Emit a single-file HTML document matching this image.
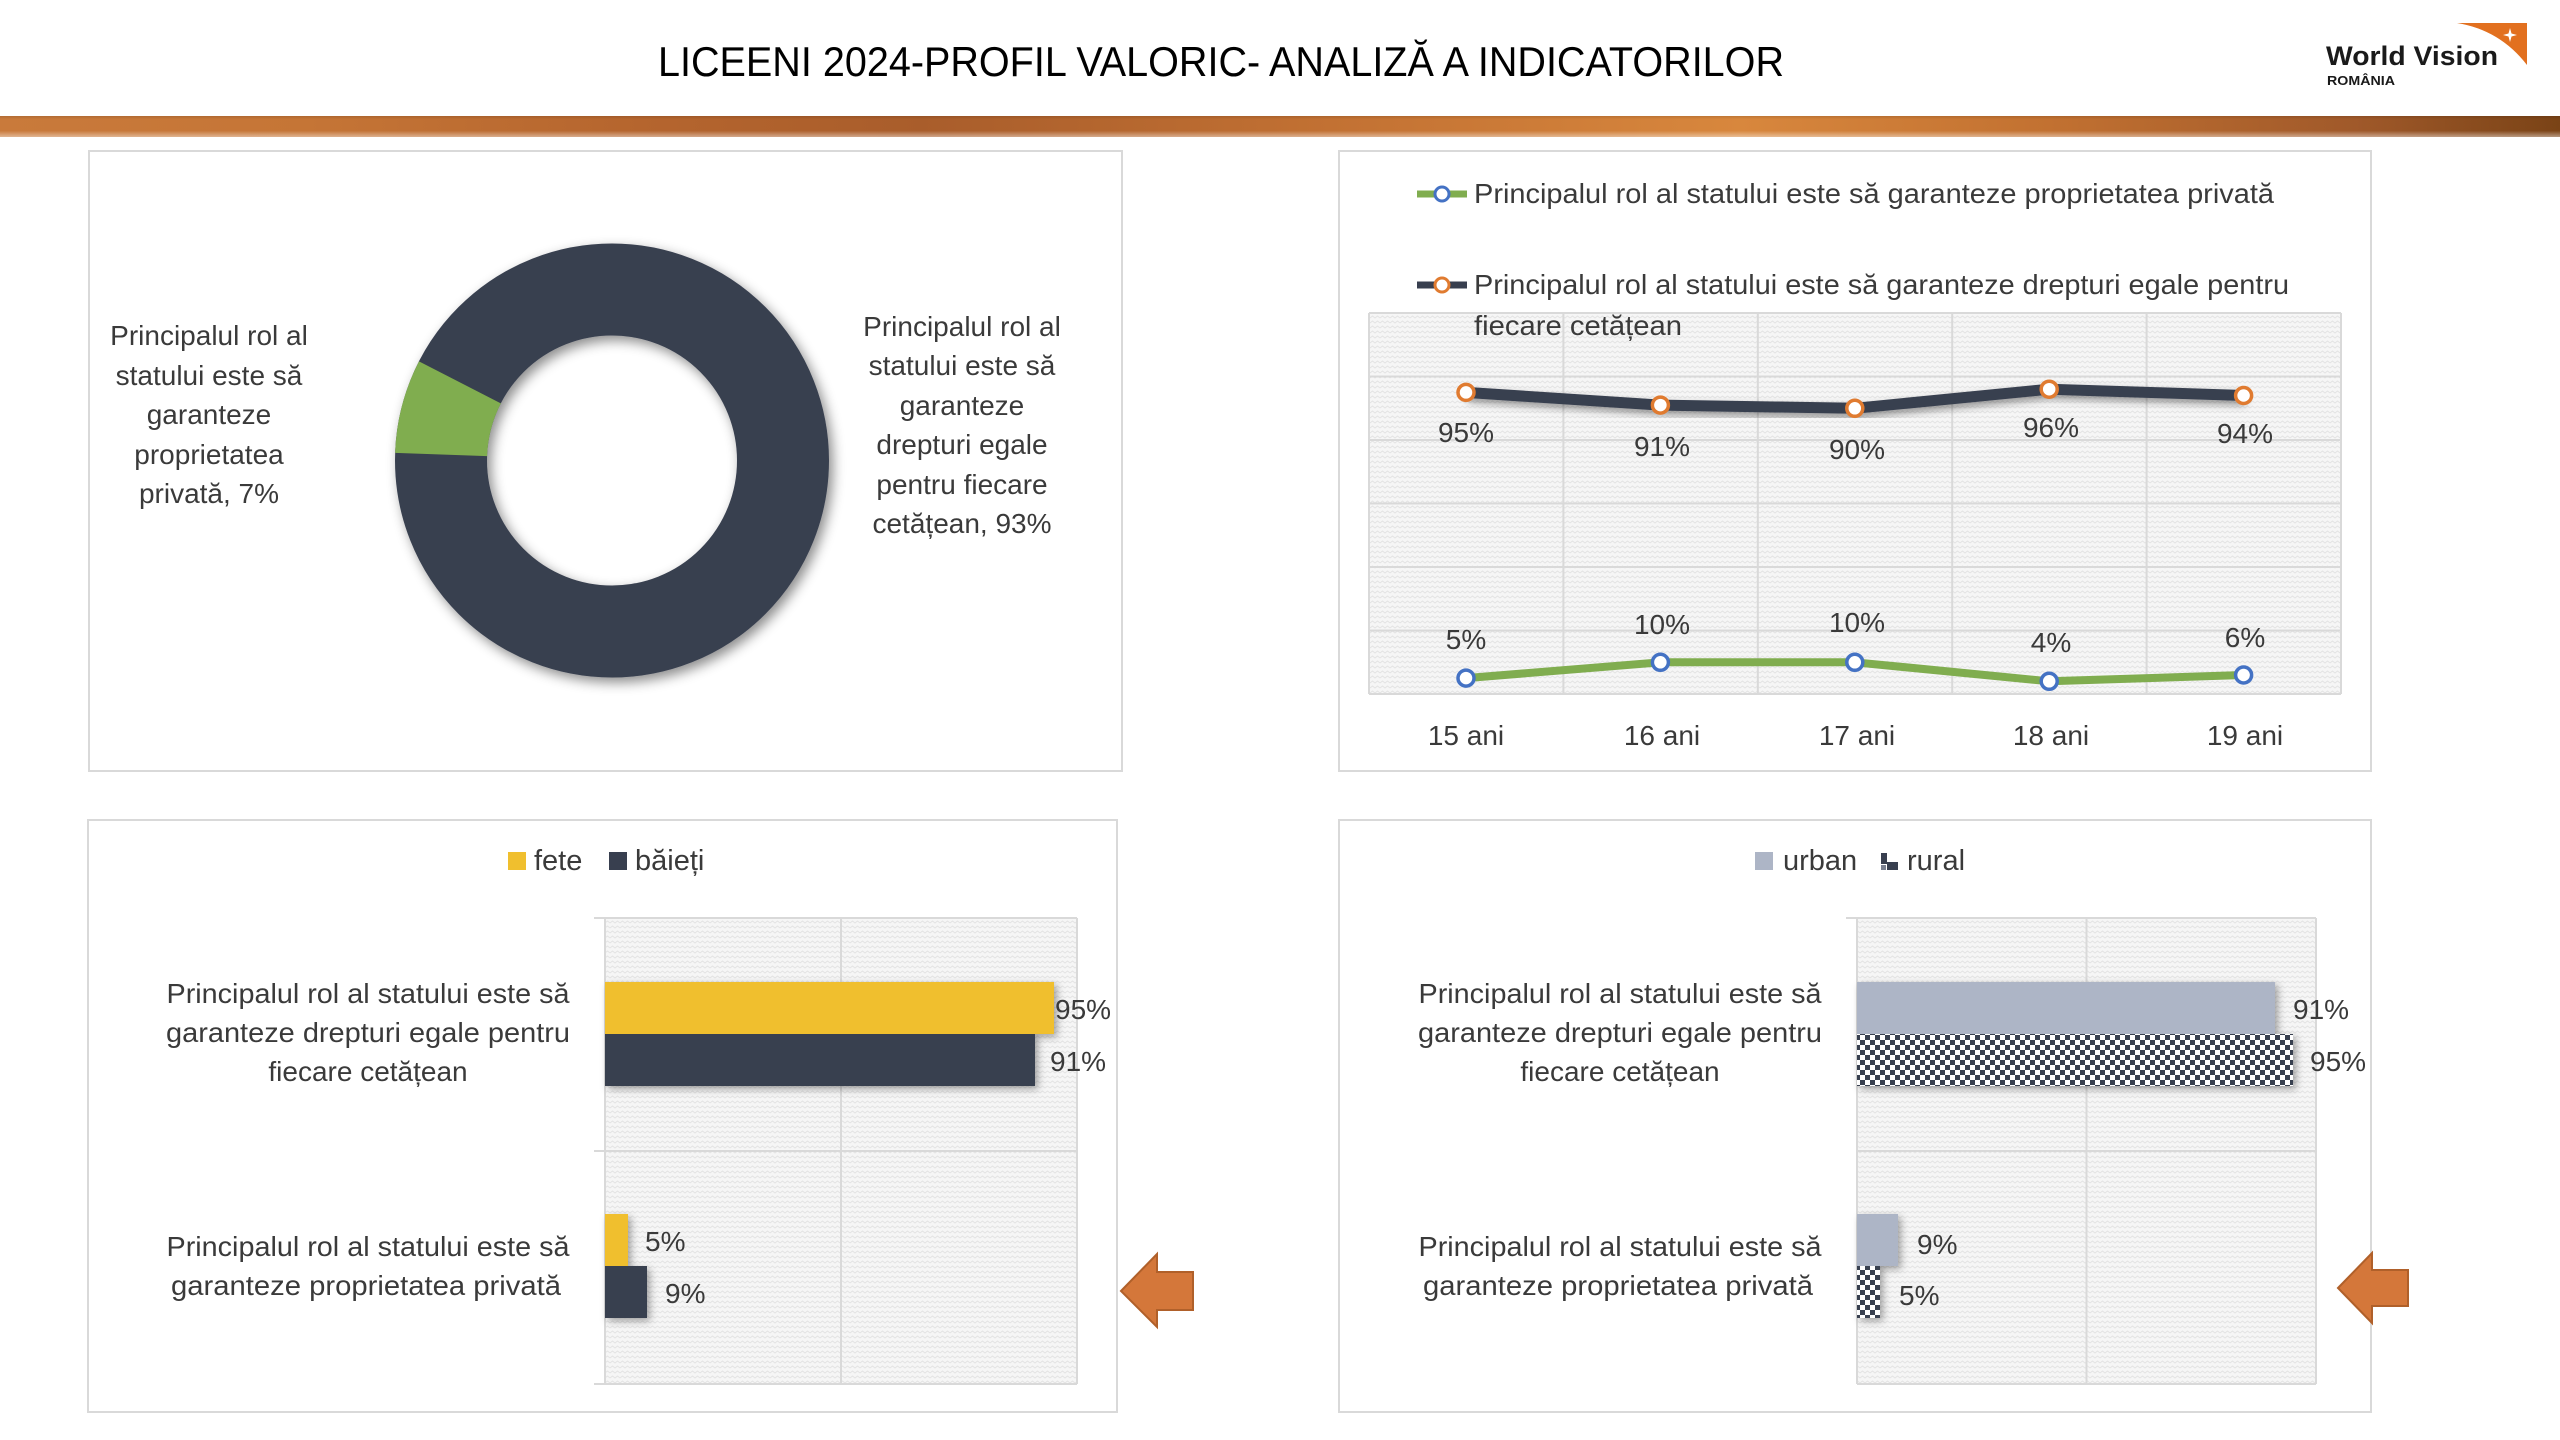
<!DOCTYPE html>
<html><head><meta charset="utf-8"><style>
html,body{margin:0;padding:0;background:#fff;}
svg{display:block;}
text{font-family:"Liberation Sans",sans-serif;}
</style></head><body>
<svg width="2560" height="1440" viewBox="0 0 2560 1440" xmlns="http://www.w3.org/2000/svg">
<defs>
<linearGradient id="band" x1="0" y1="0" x2="1" y2="0">
<stop offset="0" stop-color="#c97a3b"/>
<stop offset="0.12" stop-color="#c57536"/>
<stop offset="0.25" stop-color="#b5652e"/>
<stop offset="0.36" stop-color="#a95d2b"/>
<stop offset="0.52" stop-color="#c27133"/>
<stop offset="0.68" stop-color="#d8873d"/>
<stop offset="0.8" stop-color="#c27131"/>
<stop offset="0.92" stop-color="#a0592a"/>
<stop offset="1" stop-color="#7a4316"/>
</linearGradient>
<linearGradient id="bandv" x1="0" y1="0" x2="0" y2="1">
<stop offset="0" stop-color="#000" stop-opacity="0.12"/>
<stop offset="0.15" stop-color="#000" stop-opacity="0"/>
<stop offset="0.7" stop-color="#fff" stop-opacity="0"/>
<stop offset="1" stop-color="#fff" stop-opacity="0.45"/>
</linearGradient>
<pattern id="tex" width="10" height="10" patternUnits="userSpaceOnUse">
<rect width="10" height="10" fill="#f6f6f6"/>
<path d="M0,3 l2.5,-2 l2.5,2 l2.5,-2 l2.5,2 M0,8 l2.5,-2 l2.5,2 l2.5,-2 l2.5,2" stroke="#e3e3e3" stroke-width="1" fill="none"/>
</pattern>
<pattern id="chk" width="10" height="10" patternUnits="userSpaceOnUse">
<rect width="10" height="10" fill="#ffffff"/>
<rect x="0" y="0" width="5" height="5" fill="#383f4f"/>
<rect x="5" y="5" width="5" height="5" fill="#383f4f"/>
</pattern>
<filter id="sh" x="-20%" y="-20%" width="140%" height="140%">
<feDropShadow dx="4" dy="5" stdDeviation="6" flood-color="#000" flood-opacity="0.45"/>
</filter>
<filter id="shl" x="-10%" y="-50%" width="120%" height="200%">
<feDropShadow dx="2" dy="4" stdDeviation="4" flood-color="#000" flood-opacity="0.4"/>
</filter>
<filter id="shb" x="-10%" y="-30%" width="120%" height="160%">
<feDropShadow dx="3" dy="3" stdDeviation="4" flood-color="#000" flood-opacity="0.35"/>
</filter>
</defs>

<rect width="2560" height="1440" fill="#fff"/>

<!-- Header -->
<text x="1221" y="76" font-size="42" fill="#000" text-anchor="middle" textLength="1126" lengthAdjust="spacingAndGlyphs">LICEENI 2024-PROFIL VALORIC- ANALIZĂ A INDICATORILOR</text>
<path d="M2457,23 L2527,23 L2527,65 Q2500,30 2457,23 Z" fill="#e2701f"/>
<path d="M2510,28 L2511.5,33.5 L2517,35 L2511.5,36.5 L2510,42 L2508.5,36.5 L2503,35 L2508.5,33.5 Z" fill="#fff"/>
<text x="2326" y="65" font-size="27" font-weight="bold" fill="#1a1a1a" textLength="172" lengthAdjust="spacingAndGlyphs">World Vision</text>
<text x="2327" y="85" font-size="13" font-weight="bold" fill="#1a1a1a" textLength="68" lengthAdjust="spacingAndGlyphs">ROMÂNIA</text>
<rect x="0" y="116" width="2560" height="21" fill="url(#band)"/>
<rect x="0" y="116" width="2560" height="21" fill="url(#bandv)"/>

<!-- Panels -->
<rect x="89" y="151" width="1033" height="620" fill="#fff" stroke="#d9d9d9" stroke-width="2"/>
<rect x="1339" y="151" width="1032" height="620" fill="#fff" stroke="#d9d9d9" stroke-width="2"/>
<rect x="88" y="820" width="1029" height="592" fill="#fff" stroke="#d9d9d9" stroke-width="2"/>
<rect x="1339" y="820" width="1032" height="592" fill="#fff" stroke="#d9d9d9" stroke-width="2"/>

<!-- Donut -->
<g filter="url(#sh)">
<circle cx="612" cy="460.5" r="171" fill="none" stroke="#383f4f" stroke-width="92"/>
<path d="M395.13,452.93 A217,217 0 0 1 419.0,361.32 L500.82,403.37 A125,125 0 0 0 487.08,456.14 Z" fill="#80ad4f"/>
</g>
<g font-size="28" fill="#3a3a3a" text-anchor="middle">
<text x="209" y="345">Principalul rol al</text>
<text x="209" y="385">statului este să</text>
<text x="209" y="424">garanteze</text>
<text x="209" y="464">proprietatea</text>
<text x="209" y="503">privată, 7%</text>
<text x="962" y="336">Principalul rol al</text>
<text x="962" y="375">statului este să</text>
<text x="962" y="415">garanteze</text>
<text x="962" y="454">drepturi egale</text>
<text x="962" y="494">pentru fiecare</text>
<text x="962" y="533">cetățean, 93%</text>
</g>

<!-- Line chart -->
<rect x="1369" y="313" width="972" height="381" fill="url(#tex)"/>
<g stroke="#d9d9d9" stroke-width="2" fill="none">
<path d="M1369,313H2341M1369,376.5H2341M1369,440H2341M1369,503.5H2341M1369,567H2341M1369,630.5H2341M1369,694H2341"/>
<path d="M1369,313V694M1563.4,313V694M1757.8,313V694M1952.2,313V694M2146.6,313V694M2341,313V694"/>
</g>
<!-- legend -->
<line x1="1417" y1="194" x2="1467" y2="194" stroke="#80ad4f" stroke-width="7"/>
<circle cx="1442" cy="194" r="7" fill="#fff" stroke="#4472c4" stroke-width="3"/>
<line x1="1417" y1="285" x2="1467" y2="285" stroke="#383f4f" stroke-width="7"/>
<circle cx="1442" cy="285" r="7" fill="#fff" stroke="#e07b30" stroke-width="3"/>
<g font-size="28" fill="#3a3a3a">
<text x="1474" y="203" textLength="800" lengthAdjust="spacingAndGlyphs">Principalul rol al statului este să garanteze proprietatea privată</text>
<text x="1474" y="294" textLength="815" lengthAdjust="spacingAndGlyphs">Principalul rol al statului este să garanteze drepturi egale pentru</text>
<text x="1474" y="335" textLength="208" lengthAdjust="spacingAndGlyphs">fiecare cetățean</text>
</g>
<!-- series -->
<polyline points="1466,392.4 1660.4,405.1 1854.8,408.3 2049.2,389.2 2243.6,395.5" fill="none" stroke="#383f4f" stroke-width="11" stroke-linejoin="round" filter="url(#shl)"/>
<polyline points="1466,678.1 1660.4,662.3 1854.8,662.3 2049.2,681.3 2243.6,675" fill="none" stroke="#80ad4f" stroke-width="8" stroke-linejoin="round"/>
<g fill="#fff" stroke="#e07b30" stroke-width="3.5">
<circle cx="1466" cy="392.4" r="8"/><circle cx="1660.4" cy="405.1" r="8"/><circle cx="1854.8" cy="408.3" r="8"/><circle cx="2049.2" cy="389.2" r="8"/><circle cx="2243.6" cy="395.5" r="8"/>
</g>
<g fill="#fff" stroke="#4472c4" stroke-width="3.5">
<circle cx="1466" cy="678.1" r="8"/><circle cx="1660.4" cy="662.3" r="8"/><circle cx="1854.8" cy="662.3" r="8"/><circle cx="2049.2" cy="681.3" r="8"/><circle cx="2243.6" cy="675" r="8"/>
</g>
<g font-size="28" fill="#3a3a3a" text-anchor="middle">
<text x="1466" y="442">95%</text><text x="1662" y="456">91%</text><text x="1857" y="459">90%</text><text x="2051" y="437">96%</text><text x="2245" y="443">94%</text>
<text x="1466" y="649">5%</text><text x="1662" y="634">10%</text><text x="1857" y="632">10%</text><text x="2051" y="652">4%</text><text x="2245" y="647">6%</text>
<text x="1466" y="745">15 ani</text><text x="1662" y="745">16 ani</text><text x="1857" y="745">17 ani</text><text x="2051" y="745">18 ani</text><text x="2245" y="745">19 ani</text>
</g>

<!-- Bar chart 1 (fete/baieti) -->
<rect x="508" y="852" width="18" height="18" fill="#f0bf2e"/>
<rect x="609" y="852" width="18" height="18" fill="#383f4f"/>
<g font-size="29" fill="#3a3a3a">
<text x="534" y="870">fete</text>
<text x="635" y="870">băieți</text>
</g>
<rect x="605" y="918" width="472" height="466" fill="url(#tex)"/>
<g stroke="#d9d9d9" stroke-width="2" fill="none">
<path d="M594,918H1077M594,1151H1077M594,1384H1077"/>
<path d="M605,918V1384M841,918V1384M1077,918V1384"/>
</g>
<g filter="url(#shb)">
<rect x="605" y="982" width="449" height="52" fill="#f0bf2e"/>
<rect x="605" y="1034" width="430" height="52" fill="#383f4f"/>
<rect x="605" y="1214" width="23" height="52" fill="#f0bf2e"/>
<rect x="605" y="1266" width="42" height="52" fill="#383f4f"/>
</g>
<g font-size="28" fill="#3a3a3a">
<text x="1055" y="1019">95%</text>
<text x="1050" y="1071">91%</text>
<text x="645" y="1251">5%</text>
<text x="665" y="1303">9%</text>
</g>
<g font-size="28" fill="#3a3a3a" text-anchor="middle">
<text x="368" y="1003" textLength="403" lengthAdjust="spacingAndGlyphs">Principalul rol al statului este să</text>
<text x="368" y="1042" textLength="404" lengthAdjust="spacingAndGlyphs">garanteze drepturi  egale pentru</text>
<text x="368" y="1081">fiecare cetățean</text>
<text x="368" y="1256" textLength="403" lengthAdjust="spacingAndGlyphs">Principalul rol al statului este să</text>
<text x="366" y="1295" textLength="390" lengthAdjust="spacingAndGlyphs">garanteze proprietatea privată</text>
</g>
<path d="M1121,1291 L1157,1254 L1157,1272 L1193,1272 L1193,1310 L1157,1310 L1157,1327 Z" fill="#d4773a" stroke="#b0602a" stroke-width="2"/>

<!-- Bar chart 2 (urban/rural) -->
<rect x="1755" y="852" width="18" height="18" fill="#adb5c6"/>
<rect x="1881" y="853" width="6" height="11" fill="#383f4f"/>
<rect x="1887" y="862" width="11" height="8" fill="#383f4f"/>
<rect x="1881" y="865" width="5" height="5" fill="#7a8090"/>
<g font-size="29" fill="#3a3a3a">
<text x="1783" y="870">urban</text>
<text x="1907" y="870">rural</text>
</g>
<rect x="1857" y="918" width="459" height="466" fill="url(#tex)"/>
<g stroke="#d9d9d9" stroke-width="2" fill="none">
<path d="M1846,918H2316M1857,1151H2316M1857,1384H2316"/>
<path d="M1857,918V1384M2086.5,918V1384M2316,918V1384"/>
</g>
<g filter="url(#shb)">
<rect x="1857" y="982" width="418" height="52" fill="#adb5c6"/>
<rect x="1857" y="1034" width="436" height="52" fill="url(#chk)"/>
<rect x="1857" y="1214" width="41" height="52" fill="#adb5c6"/>
<rect x="1857" y="1266" width="23" height="52" fill="url(#chk)"/>
</g>
<g font-size="28" fill="#3a3a3a">
<text x="2293" y="1019">91%</text>
<text x="2310" y="1071">95%</text>
<text x="1917" y="1254">9%</text>
<text x="1899" y="1305">5%</text>
</g>
<g font-size="28" fill="#3a3a3a" text-anchor="middle">
<text x="1620" y="1003" textLength="403" lengthAdjust="spacingAndGlyphs">Principalul rol al statului este să</text>
<text x="1620" y="1042" textLength="404" lengthAdjust="spacingAndGlyphs">garanteze drepturi  egale pentru</text>
<text x="1620" y="1081">fiecare cetățean</text>
<text x="1620" y="1256" textLength="403" lengthAdjust="spacingAndGlyphs">Principalul rol al statului este să</text>
<text x="1618" y="1295" textLength="390" lengthAdjust="spacingAndGlyphs">garanteze proprietatea privată</text>
</g>
<path d="M2338,1288 L2372,1253 L2372,1270 L2408,1270 L2408,1306 L2372,1306 L2372,1323 Z" fill="#d4773a" stroke="#b0602a" stroke-width="2"/>
</svg>
</body></html>
